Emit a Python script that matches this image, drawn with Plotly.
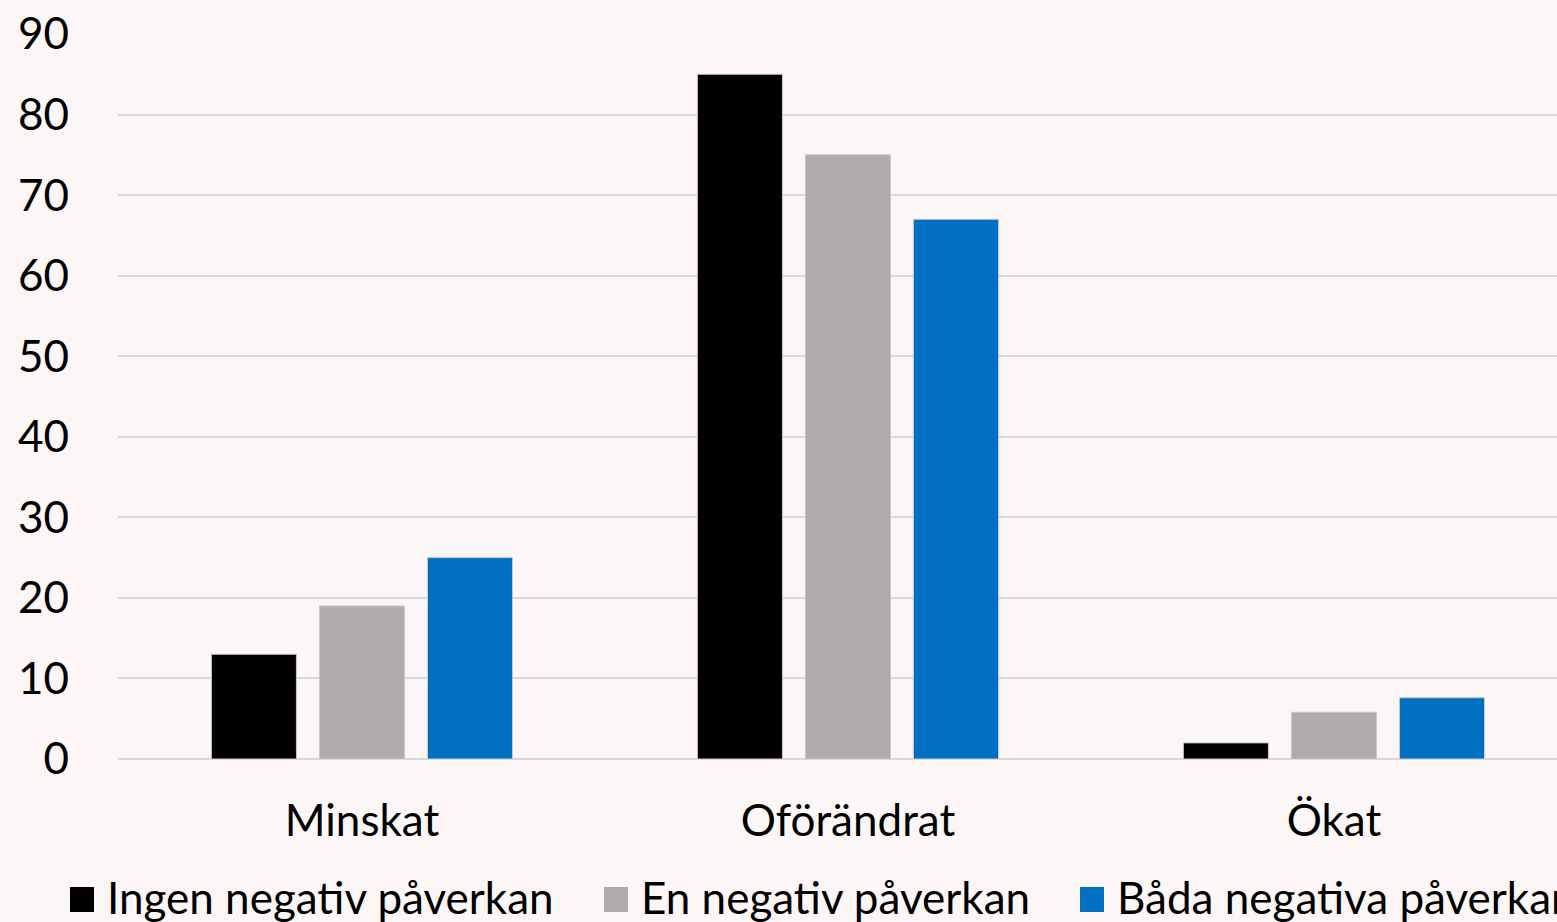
import plotly.graph_objects as go

categories = ["Minskat", "Oförändrat", "Ökat"]
ingen = [13, 85, 2]
en = [19, 75, 5.8]
bada = [25, 67, 7.6]
series_names = ["Ingen negativ påverkan", "En negativ påverkan", "Båda negativa påverkan"]
colors = ["#000000", "#AEABAA", "#0070C0"]

BG = "#FCF7F6"
FONT = "Lato"
W, H = 1557, 922
L, R, T, B = 118, 0, 34, 163

fig = go.Figure()
for name, vals, col in zip(series_names, [ingen, en, bada], colors):
    fig.add_trace(go.Bar(
        x=categories, y=vals, name=name,
        marker=dict(color=col, line=dict(color="#C8C8C8", width=1)),
    ))


def px_x(p):
    return (p - L) / (W - L - R)


def px_y(p):
    return (H - B - p) / (H - T - B)


# legend drawn by hand so the squares and text match the original size
legend_x = [70, 604, 1080]
for name, col, lx in zip(series_names, colors, legend_x):
    fig.add_shape(type="rect", xref="paper", yref="paper",
                  x0=px_x(lx), x1=px_x(lx + 24), y0=px_y(912), y1=px_y(887),
                  fillcolor=col, line=dict(width=0))
    fig.add_annotation(text=name, xref="paper", yref="paper",
                       x=px_x(lx + 35), y=px_y(897), xanchor="left", yanchor="middle",
                       showarrow=False, font=dict(size=44, family=FONT, color="#000000"))

fig.update_layout(
    width=W, height=H,
    paper_bgcolor=BG, plot_bgcolor=BG,
    font=dict(family=FONT, color="#000000", size=44),
    barmode="group", bargap=0.333, bargroupgap=0.213,
    margin=dict(l=L, r=R, t=T, b=B),
    showlegend=False,
)
fig.update_xaxes(
    range=[-0.502, 2.459], showgrid=False, showline=False,
    ticks="", ticklabelstandoff=32,
)
fig.update_yaxes(
    range=[0, 90], dtick=10, showgrid=True, gridcolor="#D9D9D9", gridwidth=2,
    zeroline=True, zerolinecolor="#D9D9D9", zerolinewidth=2,
    showline=False, ticks="", ticklabelstandoff=48,
)

fig.write_html("out.html", config={"displayModeBar": False}, post_script=(
    "document.body.style.margin='0';"
    "document.body.style.background='" + BG + "';"
    "document.body.style.overflow='hidden';"
))
